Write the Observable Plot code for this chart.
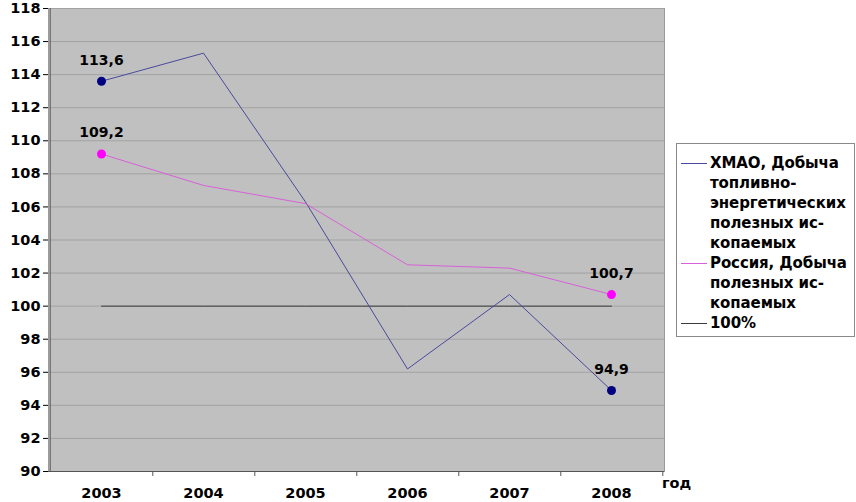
<!DOCTYPE html>
<html><head><meta charset="utf-8">
<script src="https://cdn.jsdelivr.net/npm/d3@7"></script>
<script src="https://cdn.jsdelivr.net/npm/@observablehq/plot@0.6"></script>
<style>
body{margin:0;background:#fff;}
#wrap{position:relative;width:856px;height:502px;overflow:hidden;font-family:"DejaVu Sans",sans-serif;}
#legend{position:absolute;left:676px;top:143px;width:179px;height:194px;border:1px solid #8a8a8a;box-sizing:border-box;background:#fff;font-weight:bold;font-size:15px;line-height:20px;padding-top:9px;letter-spacing:-0.1px;white-space:nowrap;}
#legend .row{position:relative;padding-left:33px;}
#legend .sw{position:absolute;left:4px;top:10px;width:26px;height:0;border-top:1px solid;}
#god{position:absolute;left:662px;top:475px;font-weight:bold;font-size:14.5px;}
</style></head>
<body><div id="wrap"><div id="chart"></div>
<div id="legend"></div>
<div id="god">год</div></div>
<script>
const years = ["2003","2004","2005","2006","2007","2008"];
const khmao = [113.6,115.3,106.3,96.2,100.7,94.9];
const russia = [109.2,107.3,106.2,102.5,102.3,100.7];
const base = [100,100,100,100,100,100];
const yTicks = [90,92,94,96,98,100,102,104,106,108,110,112,114,116,118];
const seriesNames = ["ХМАО, Добыча топливно-энергетических полезных ис-копаемых","Россия, Добыча полезных ис-копаемых","100%"];
const legendLines = [["ХМАО, Добыча","топливно-","энергетических","полезных ис-","копаемых"],["Россия, Добыча","полезных ис-","копаемых"],["100%"]];
const colors = ["#4a4a9c","#d860d8","#3a3a3a"];
const dotColors = ["#000080","#ff00ff"];

const rows = (vals, s) => years.map((y,i)=>({year:y, value:vals[i], series:s, idx:i}));
const dK = rows(khmao, 0), dR = rows(russia, 1), dB = rows(base, 2);
const ends = [dK[0], dK[5], dR[0], dR[5]];
const fmt = v => String(v).replace(".", ",");

const chart = Plot.plot({
  width: 856, height: 502,
  marginLeft: 48, marginRight: 192, marginTop: 8, marginBottom: 31,
  style: {fontFamily: "DejaVu Sans", fontWeight: "bold", fontSize: "14.5px", color: "#000", background: "transparent", overflow: "visible"},
  x: {type: "point", domain: years, padding: 0.5},
  y: {domain: [90, 118]},
  marks: [
    Plot.frame({fill: "#c0c0c0", stroke: "#9a9a9a"}),
    Plot.ruleY(yTicks, {stroke: "#a2a2a2", strokeWidth: 1}),
    Plot.line(dB, {x: "year", y: "value", stroke: colors[2], strokeWidth: 1}),
    Plot.line(dK, {x: "year", y: "value", stroke: colors[0], strokeWidth: 1}),
    Plot.line(dR, {x: "year", y: "value", stroke: colors[1], strokeWidth: 1}),
    Plot.dot(ends, {x: "year", y: "value", r: 4.5, fill: d => dotColors[d.series], stroke: "none"}),
    Plot.text(ends, {x: "year", y: "value", text: d => fmt(d.value), dy: -21, fontSize: 14, fontWeight: "bold", fill: "#000"}),
    Plot.ruleY([90], {stroke: "#555"}),
    Plot.ruleX([years[0]], {stroke: "#555", dx: -51.3}),
    Plot.ruleX(years, {x: d => d, dx: 51.3, y1: 90, y2: 89.7, stroke: "#555"}),
    Plot.axisY({ticks: yTicks, tickSize: 5, tickPadding: 3, tickFormat: d => d, label: null, fontSize: 14.5}),
    Plot.axisX({tickSize: 0, tickPadding: 16, label: null, fontSize: 14.5})
  ]
});
document.getElementById("chart").appendChild(chart);

const lg = document.getElementById("legend");
legendLines.forEach((lines, s) => {
  const r = document.createElement("div");
  r.className = "row";
  r.title = seriesNames[s];
  r.innerHTML = `<span class="sw" style="border-color:${colors[s]}"></span>` + lines.join("<br>");
  lg.appendChild(r);
});
</script></body></html>
